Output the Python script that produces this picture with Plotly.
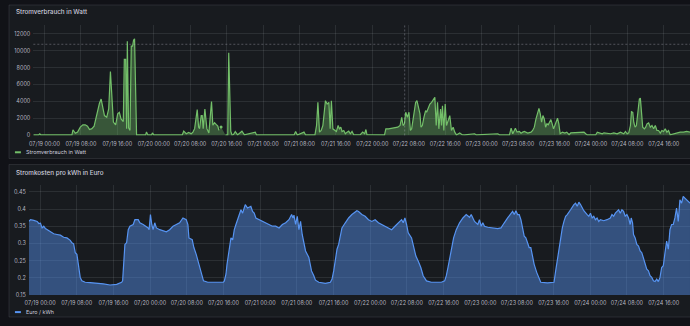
import pandas as pd
import plotly.graph_objects as go

BASE = pd.Timestamp("2023-07-19 00:00")
RANGE_H = [-2.45, 141.75]

# ---- Stromverbrauch (W), hours after 07/19 00:00 ----
power_hours = [-2.45, -1.3, -1.03, -0.8, 6.03, 6.25, 6.77, 7.27, 7.86, 8.43, 8.95, 9.45, 9.89, 10.4,
               10.9, 11.27, 11.79, 12.07, 12.44, 12.8, 13.17, 13.67, 14.1, 14.48, 14.77, 15.13, 15.63,
               16.07, 16.44, 16.81, 17.31, 17.53, 17.82, 18.04, 18.19, 18.47, 18.78, 19.06, 19.35,
               19.56, 19.78, 20.09, 20.22, 22.2, 22.4, 22.7, 23.5, 23.7, 24.0, 30.26, 30.57, 31.13,
               31.66, 32.23, 32.6, 32.97, 33.32, 33.54, 33.84, 34.06, 34.41, 34.63, 34.85, 35.22,
               35.44, 35.66, 36.1, 36.38, 36.68, 36.97, 37.34, 37.69, 38.06, 38.3, 38.5, 38.78, 39.2,
               39.74, 40.24, 40.46, 40.9, 41.18, 41.5, 41.9, 42.4, 43.36, 43.9, 46.29, 46.57, 54.8,
               55.15, 55.52, 56.99, 57.35, 59.39, 59.74, 60.04, 60.39, 60.76, 61.13, 61.42, 61.7,
               62.07, 62.45, 62.73, 63.0, 63.33, 63.76, 64.1, 64.48, 64.76, 65.07, 65.35, 65.72,
               66.07, 66.44, 66.81, 67.16, 67.53, 67.9, 68.62, 69.35, 69.87, 70.31, 70.59, 70.81,
               74.67, 74.96, 75.55, 76.27, 76.99, 77.58, 78.08, 78.45, 78.74, 79.04, 79.33, 79.69,
               80.04, 80.35, 80.63, 81.0, 81.22, 81.5, 81.79, 82.1, 82.45, 82.67, 82.97, 83.32,
               83.69, 83.91, 84.28, 84.63, 85.0, 85.37, 85.72, 86.02, 86.31, 86.6, 86.97, 87.18,
               87.4, 87.69, 87.99, 88.28, 88.65, 89.0, 89.37, 89.74, 90.09, 90.46, 91.18, 91.7,
               92.27, 92.64, 94.46, 94.83, 99.56, 99.92, 102.1, 102.47, 102.83, 103.41, 103.78,
               104.29, 104.65, 105.01, 105.38, 106.11, 106.83, 107.2, 107.56, 107.93, 108.29,
               108.58, 108.87, 109.16, 109.45, 109.75, 110.04, 110.33, 110.62, 110.91, 111.2,
               111.49, 111.78, 112.07, 112.37, 112.66, 112.95, 113.24, 113.75, 114.26, 114.69,
               115.2, 115.57, 115.93, 116.66, 117.75, 118.48, 118.84, 119.21, 119.93, 121.03,
               121.39, 122.12, 122.48, 122.85, 123.57, 124.3, 125.03, 125.76, 126.48, 127.21,
               127.58, 127.94, 128.3, 128.67, 128.89, 129.18, 129.4, 129.69, 129.98, 130.27,
               130.63, 130.85, 131.07, 131.36, 131.73, 132.02, 132.31, 132.67, 133.03, 133.4,
               133.76, 134.13, 134.49, 134.85, 135.22, 135.58, 135.94, 136.31, 136.67, 137.04,
               137.4, 138.13, 138.86, 139.58, 140.31, 141.04, 141.75]
power_watts = [60, 60, 200, 60, 60, 670, 250, 400, 980, 1250, 1250, 1100, 700, 800,
               1100, 2030, 3320, 3790, 4290, 3120, 2340, 2150, 3120, 7530, 4290, 1570, 1250,
               2540, 2730, 1950, 1640, 8970, 8970, 800, 11110, 900, 600, 10530, 10530,
               11230, 11400, 3000, 60, 60, 400, 60, 60, 300, 60, 60, 500, 200,
               350, 200, 400, 800, 2340, 3040, 1000, 800, 2340, 2340, 800, 3120,
               1950, 800, 300, 2340, 4000, 1200, 1500, 1300, 1100, 600, None, 1000, None,
               60, 60, 9750, 500, 60, 100, 450, 60, 500, 60, 390, 60, 60,
               468, 60, 390, 60, 60, 1170, 3900, 390, 585, 1170, 2730, 4100,
               3700, 3900, 780, 4100, 780, 585, 468, 1170, 780, 975, 468, 585,
               200, 390, 507, 200, 468, 80, 80, 80, 390, 200, 700, 80,
               60, 780, 780, 860, 900, 975, 1170, 2140, 1170, 1370, 2730, 2140,
               2730, 585, 780, 1950, 3120, 3900, 4100, 3510, 2540, 975, 1170, 2140,
               2930, 2730, 3310, 3700, 3900, 4290, 4490, 1170, 3900, 780, 3120, 1170,
               3510, 585, 3700, 1170, 1950, 2340, 585, 975, 390, 60, 300, 80,
               60, 80, 200, 60, 200, 60, 60, 858, 200, 858, 390,
               468, 270, 390, 468, 270, 390, 585, 975, 1950, 2540,
               3200, 2540, 1560, 2340, 1950, 975, 1370, 1250, 1560, 1870,
               1370, 780, 1170, 1560, 2030, 1370, 200, 390, 270, 390,
               80, 312, 312, 390, 390, 390, 200, 60, 80, 60,
               390, 312, 200, 312, 270, 200, 312, 200, 390, 200,
               468, 200, 312, 1170, 2810, 2730, 1560, 975, 1170, 2730,
               4290, 4400, 2730, 975, 780, 975, 1370, 1480, 975, 1170,
               780, 1170, 585, 585, 270, 585, 468, 780, 390, 585,
               80, 200, 312, 390, 390, 468, 390]

# ---- Stromkosten (Euro / kWh) ----
price_hours = [-2.45, -2.09, -1.37, -0.64, -0.28, 0.08, 0.44, 0.80, 1.16, 1.52, 2.25, 2.97, 3.69,
               4.42, 5.14, 5.86, 6.58, 6.94, 7.31, 7.67, 8.03, 8.39, 8.75, 9.11, 9.84, 10.92, 12.36,
               13.81, 15.26, 16.70, 17.78, 18.0, 18.5, 18.87, 19.23, 19.59, 20.31, 20.68, 21.4,
               21.76, 22.48, 23.2, 23.57, 23.78, 24.07, 24.36, 24.65, 25.01, 25.37, 26.1, 26.82,
               27.54, 28.26, 28.99, 29.71, 30.43, 31.16, 31.88, 32.24, 32.46, 33.18, 33.54, 34.05,
               34.62, 34.99, 35.35, 35.64, 36.58, 39.1, 39.97, 40.19, 40.55, 40.77, 41.27, 41.63,
               42.0, 42.36, 42.72, 43.08, 43.45, 43.81, 44.17, 44.75, 45.25, 45.97, 46.34, 46.7,
               47.06, 47.78, 48.5, 49.23, 49.95, 50.67, 51.39, 52.12, 52.84, 53.56, 54.28, 54.86,
               55.15, 55.37, 55.73, 56.09, 56.45, 56.81, 57.17, 57.53, 57.9, 58.62, 59.2, 59.7,
               60.06, 60.79, 62.23, 63.32, 63.68, 64.04, 64.4, 64.76, 65.12, 65.48, 65.84, 66.57,
               66.93, 67.29, 68.01, 68.73, 69.1, 69.46, 70.18, 70.9, 71.62, 72.35, 73.07, 73.79,
               74.51, 75.24, 75.96, 76.68, 77.4, 78.13, 78.85, 79.21, 79.57, 79.93, 80.29, 81.02,
               81.6, 81.96, 82.46, 83.04, 83.55, 84.27, 85.35, 87.52, 88.24, 88.6, 88.97, 89.47,
               89.83, 90.19, 90.77, 91.49, 92.22, 92.94, 93.67, 94.03, 94.75, 95.47, 95.83, 96.2,
               96.56, 96.92, 97.64, 98.36, 99.09, 99.81, 100.53, 100.89, 101.25, 101.98, 102.7,
               103.06, 103.42, 103.78, 104.14, 104.5, 104.87, 105.23, 105.59, 105.95, 106.31,
               106.67, 107.03, 107.39, 107.76, 108.33, 108.84, 109.2, 110.65, 111.73, 112.09,
               112.45, 112.81, 113.17, 113.54, 113.9, 114.26, 114.62, 114.98, 115.34, 115.7,
               116.43, 116.79, 117.15, 117.51, 117.87, 118.23, 118.59, 119.32, 119.68, 120.04,
               120.4, 120.76, 121.12, 121.48, 121.85, 122.21, 122.93, 123.65, 124.37, 124.73,
               125.1, 125.46, 125.82, 126.18, 126.54, 126.9, 127.26, 127.62, 127.99, 128.35,
               128.71, 128.93, 129.22, 129.43, 129.79, 130.15, 130.52, 130.88, 131.24, 131.6,
               131.96, 132.32, 132.68, 133.04, 133.41, 133.77, 134.13, 134.49, 134.85, 135.21,
               135.57, 135.93, 136.3, 136.66, 137.02, 137.38, 137.74, 138.1, 138.46, 138.82,
               139.19, 139.55, 139.91, 140.27, 140.63, 140.99, 141.35, 141.75]
price_eur = [0.364, 0.369, 0.367, 0.364, 0.358, 0.359, 0.345, 0.35, 0.343, 0.34, 0.336, 0.328, 0.326,
             0.324, 0.318, 0.316, 0.309, 0.302, 0.299, 0.273, 0.268, 0.23, 0.201, 0.191, 0.187, 0.186, 0.185,
             0.182, 0.179, 0.181, 0.187, 0.191, 0.297, 0.302, 0.34, 0.35, 0.355, 0.369, 0.369,
             0.36, 0.355, 0.35, 0.345, 0.34, 0.384, 0.355, 0.34, 0.36, 0.345, 0.34, 0.337,
             0.334, 0.34, 0.35, 0.355, 0.36, 0.374, 0.369, 0.355, 0.316, 0.311, 0.288, 0.268,
             0.239, 0.225, 0.206, 0.191, 0.187, 0.186, 0.187, 0.191, 0.211, 0.239, 0.288, 0.316,
             0.31, 0.34, 0.355, 0.369, 0.379, 0.398, 0.388, 0.413, 0.403, 0.408, 0.393, 0.388,
             0.374, 0.369, 0.364, 0.36, 0.355, 0.35, 0.35, 0.345, 0.355, 0.36, 0.369, 0.384,
             0.374, 0.382, 0.355, 0.379, 0.34, 0.364, 0.326, 0.297, 0.278, 0.259, 0.22, 0.206,
             0.193, 0.187, 0.184, 0.187, 0.196, 0.22, 0.259, 0.283, 0.297, 0.321, 0.345, 0.36,
             0.369, 0.374, 0.384, 0.393, 0.395, 0.393, 0.384, 0.379, 0.369, 0.364, 0.369, 0.36,
             0.355, 0.35, 0.345, 0.34, 0.35, 0.36, 0.369, 0.36, 0.374, 0.355, 0.331, 0.316,
             0.288, 0.263, 0.249, 0.23, 0.206, 0.191, 0.187, 0.187, 0.191, 0.206, 0.23, 0.263,
             0.292, 0.316, 0.34, 0.36, 0.374, 0.384, 0.376, 0.384, 0.364, 0.355, 0.369, 0.35,
             0.36, 0.35, 0.347, 0.345, 0.343, 0.343, 0.345, 0.355, 0.36, 0.374, 0.388,
             0.393, 0.384, 0.395, 0.384, 0.384, 0.369, 0.345, 0.321, 0.316, 0.302,
             0.288, 0.288, 0.259, 0.239, 0.215, 0.196, 0.187, 0.185, 0.185, 0.187,
             0.22, 0.254, 0.288, 0.321, 0.345, 0.364, 0.379, 0.384, 0.393, 0.398,
             0.413, 0.417, 0.408, 0.42, 0.413, 0.403, 0.395, 0.384, 0.379, 0.388,
             0.374, 0.379, 0.369, 0.374, 0.364, 0.369, 0.366, 0.369, 0.374, 0.384,
             0.379, 0.388, 0.393, 0.398, 0.388, 0.398, 0.393, 0.379, 0.384, 0.374,
             0.355, 0.374, 0.36, 0.326, 0.316, 0.297, 0.292, 0.278, 0.273, 0.259,
             0.244, 0.225, 0.22, 0.206, 0.201, 0.191, 0.189, 0.196, 0.189, 0.201,
             0.23, 0.235, 0.273, 0.307, 0.283, 0.34, 0.355, 0.355, 0.374, 0.403,
             0.364, 0.427, 0.417, 0.437, 0.432, 0.427, 0.422, 0.417]

power_yticks = [0, 2000, 4000, 6000, 8000, 10000, 12000]
price_yticks = [0.15, 0.2, 0.25, 0.3, 0.35, 0.4, 0.45]
price_ytext = ["0.15", "0.2", "0.25", "0.3", "0.35", "0.4", "0.45"]

TITLE_1 = "Stromverbrauch in Watt"
TITLE_2 = "Stromkosten pro kWh in Euro"
LEGEND_1 = "Stromverbrauch in Watt"
LEGEND_2 = "Euro / kWh"

# hover crosshair seen in the top panel
crosshair_h = 79.1
crosshair_w = 10750


def ts(hours):
    return [BASE + pd.Timedelta(hours=h) for h in hours]


W, H = 690, 326
GREEN = "#73bf69"
BLUE = "#5794f2"
PAGE = "#111217"
PANEL = "#181b1f"
BORDER = "rgba(204,204,220,0.12)"
GRID = "rgba(240,250,255,0.09)"
TXT = "#ccccdc"
TICK = "rgba(204,204,220,0.88)"
FONT = "Inter, Roboto, sans-serif"
XHAIR = "rgba(204,204,220,0.32)"


def px(x):
    return x / W


def py(y):
    return 1 - y / H


fig = go.Figure()

fig.add_trace(go.Scatter(
    x=ts(power_hours), y=power_watts, mode="lines", connectgaps=False,
    line=dict(color=GREEN, width=1.2), fill="tozeroy", fillcolor="rgba(115,191,105,0.36)",
    xaxis="x", yaxis="y", name=LEGEND_1, showlegend=False, hoverinfo="skip"))

# isolated points (neighbours missing) drawn as dots, like Grafana does
iso_x, iso_y = [], []
for i, v in enumerate(power_watts):
    if v is None:
        continue
    prev_none = i == 0 or power_watts[i - 1] is None
    next_none = i == len(power_watts) - 1 or power_watts[i + 1] is None
    if prev_none and next_none:
        iso_x.append(power_hours[i])
        iso_y.append(v)
fig.add_trace(go.Scatter(
    x=ts(iso_x), y=iso_y, mode="markers", marker=dict(color=GREEN, size=3),
    xaxis="x", yaxis="y", showlegend=False, hoverinfo="skip"))

fig.add_trace(go.Scatter(
    x=ts(price_hours), y=price_eur, mode="lines",
    line=dict(color=BLUE, width=1.2), fill="tozeroy", fillcolor="rgba(87,148,242,0.45)",
    xaxis="x2", yaxis="y2", name=LEGEND_2, showlegend=False, hoverinfo="skip"))

xr = [BASE + pd.Timedelta(hours=RANGE_H[0]), BASE + pd.Timedelta(hours=RANGE_H[1])]
xcommon = dict(
    type="date", range=xr, tick0=BASE, dtick=8 * 3600 * 1000, tickformat="%m/%d %H:%M",
    showgrid=True, gridcolor=GRID, gridwidth=1, zeroline=False, showline=False,
    ticks="", ticklen=0, tickfont=dict(family=FONT, size=5.5, color=TICK),
    ticklabelstandoff=4,
)
ycommon = dict(
    showgrid=True, gridcolor=GRID, gridwidth=1, zeroline=False, showline=False,
    ticks="", ticklen=0, tickfont=dict(family=FONT, size=5.5, color=TICK), ticklabelstandoff=2,
)

fig.update_layout(
    width=W, height=H, margin=dict(l=0, r=0, t=0, b=0),
    paper_bgcolor=PAGE, plot_bgcolor="rgba(0,0,0,0)",
    showlegend=False,
    xaxis=dict(domain=[px(29.5), 1], anchor="y", **xcommon),
    yaxis=dict(domain=[py(136.7), py(25)], anchor="x", range=[0, 13050],
               tickvals=power_yticks, ticktext=[str(v) for v in power_yticks], **ycommon),
    xaxis2=dict(domain=[px(25), 1], anchor="y2", **xcommon),
    yaxis2=dict(domain=[py(297.7), py(186.7)], anchor="x2", range=[0.15, 0.47],
                tickvals=price_yticks, ticktext=price_ytext, **ycommon),
)

shapes = [
    dict(type="rect", xref="paper", yref="paper", x0=px(5), x1=px(700), y0=py(160), y1=py(5),
         fillcolor=PANEL, line=dict(color=BORDER, width=1), layer="below"),
    dict(type="rect", xref="paper", yref="paper", x0=px(5), x1=px(700), y0=py(320), y1=py(166),
         fillcolor=PANEL, line=dict(color=BORDER, width=1), layer="below"),
    # legend swatches
    dict(type="line", xref="paper", yref="paper", x0=px(11), x1=px(17), y0=py(153.7), y1=py(153.7),
         line=dict(color=GREEN, width=2)),
    dict(type="line", xref="paper", yref="paper", x0=px(11), x1=px(17), y0=py(315), y1=py(315),
         line=dict(color=BLUE, width=2)),
    # crosshair
    dict(type="line", xref="x", yref="y domain",
         x0=BASE + pd.Timedelta(hours=crosshair_h), x1=BASE + pd.Timedelta(hours=crosshair_h),
         y0=0, y1=1, line=dict(color=XHAIR, width=1, dash="2px,2px")),
    dict(type="line", xref="x domain", yref="y", x0=0, x1=1, y0=crosshair_w, y1=crosshair_w,
         line=dict(color=XHAIR, width=1, dash="2px,2px")),
]
fig.update_layout(shapes=shapes)

annotations = [
    dict(text=TITLE_1, x=px(10), y=py(12.3), xref="paper", yref="paper", xanchor="left",
         yanchor="middle", showarrow=False, font=dict(family=FONT, size=6.3, color=TXT, weight=500)),
    dict(text=TITLE_2, x=px(10), y=py(174.2), xref="paper", yref="paper", xanchor="left",
         yanchor="middle", showarrow=False, font=dict(family=FONT, size=6.3, color=TXT, weight=500)),
    dict(text=LEGEND_1, x=px(20), y=py(153.7), xref="paper", yref="paper", xanchor="left",
         yanchor="middle", showarrow=False, font=dict(family=FONT, size=5.4, color=TXT)),
    dict(text=LEGEND_2, x=px(20), y=py(315), xref="paper", yref="paper", xanchor="left",
         yanchor="middle", showarrow=False, font=dict(family=FONT, size=5.4, color=TXT)),
]
fig.update_layout(annotations=annotations)

fig.write_html("out.html")
